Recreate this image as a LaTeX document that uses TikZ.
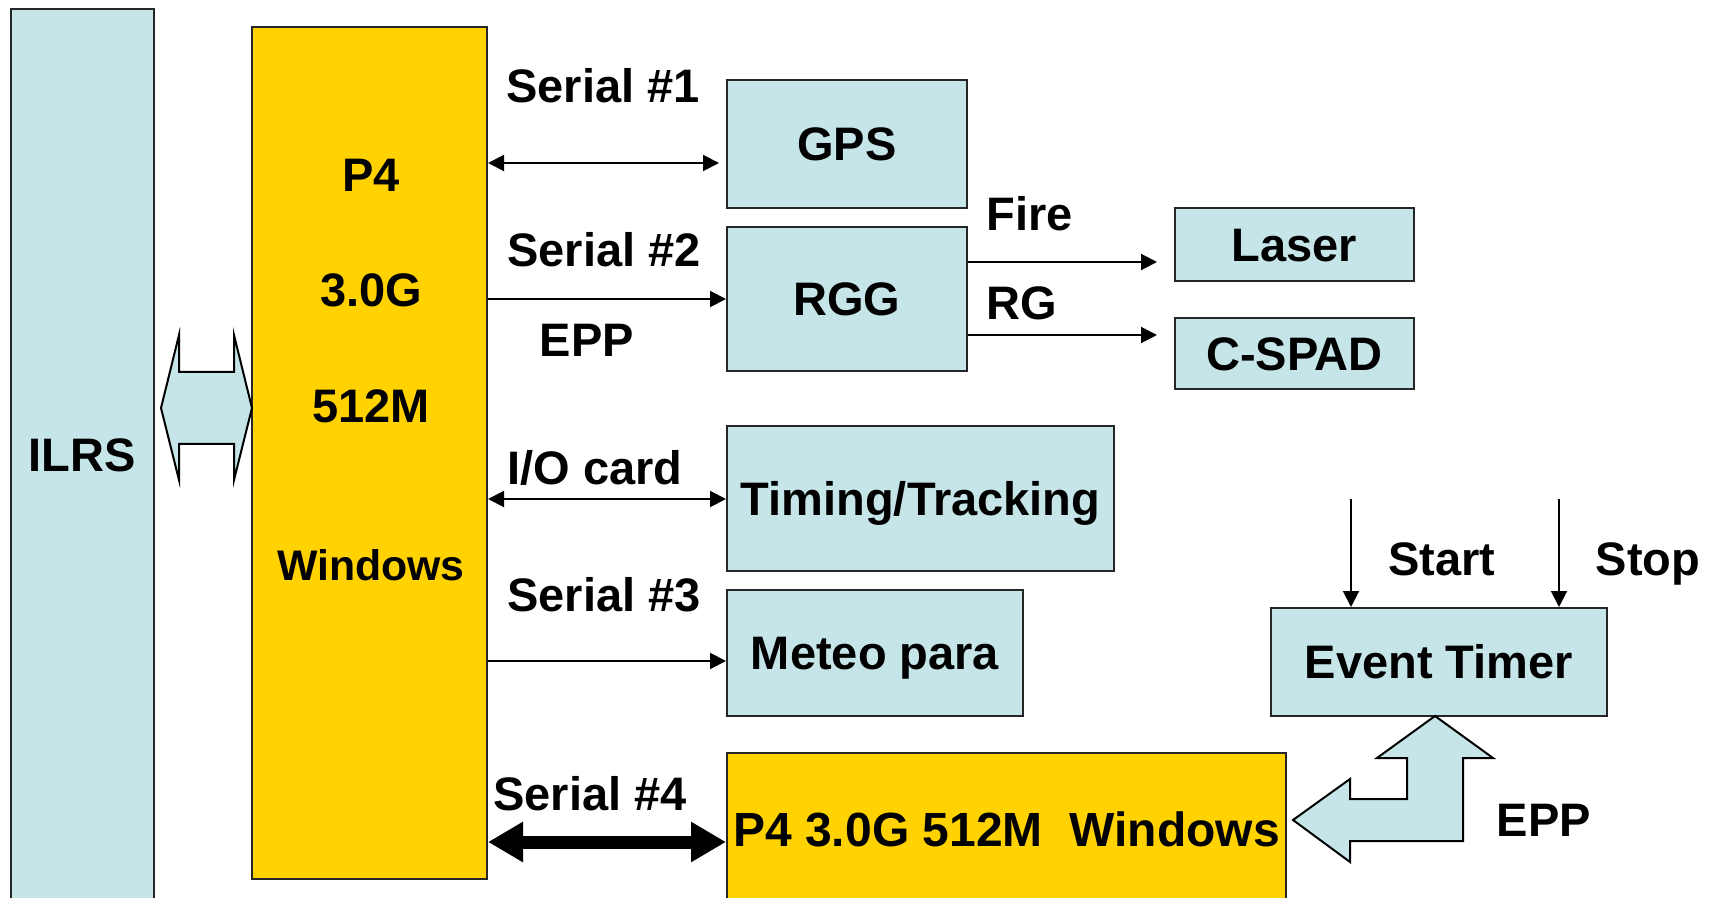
\documentclass[tikz,border=0pt]{standalone}
\usepackage{fontspec}
\setmainfont{Liberation Sans}
\usetikzlibrary{arrows.meta}
\definecolor{lblue}{HTML}{C5E5E8}
\definecolor{yel}{HTML}{FFD200}
\tikzset{
  txt/.style={font=\bfseries\fontsize{23.5}{28}\selectfont, text height=16.8pt, text depth=0pt, inner sep=0pt},
  bbox/.style={draw=black!85, line width=1pt, fill=lblue, txt},
  ybox/.style={draw=black!85, line width=1pt, fill=yel, txt},
  arr/.style={line width=1pt, -{Triangle[length=8pt,width=8pt]}},
  darr/.style={line width=1pt, {Triangle[length=8pt,width=8pt]}-{Triangle[length=8pt,width=8pt]}},
  thickarr/.style={line width=6.5pt, {Triangle[length=17.5pt,width=19pt]}-{Triangle[length=17.5pt,width=19pt]}},
  blockarr/.style={draw=black, line width=1pt, fill=lblue, line join=miter}
}
\begin{document}
\begin{tikzpicture}[x=0.5pt, y=-0.5pt]
\useasboundingbox (0,0) rectangle (1719,898);
% main boxes
\node[bbox, minimum width=71.5pt, minimum height=450.5pt] (ILRS) at (82.5,459.5) {};
\node[txt] (ilrst) at (82,455) {ILRS};
\node[ybox, minimum width=117.5pt, minimum height=426pt] (P4) at (369.5,453) {};
\node[txt] (p4a) at (371,175) {P4};
\node[txt] (p4b) at (371,290) {3.0G};
\node[txt] (p4c) at (371,406) {512M};
\node[txt, font=\bfseries\fontsize{21.4}{26}\selectfont, text height=15.3pt] (p4d) at (371,565) {Windows};
\node[bbox, minimum width=120pt, minimum height=64pt] (GPS) at (847,144) {GPS};
\node[bbox, minimum width=120pt, minimum height=72pt] (RGG) at (847,299) {RGG};
\node[bbox, minimum width=119.5pt, minimum height=36.5pt] (Laser) at (1294.5,244.5) {Laser};
\node[bbox, minimum width=119.5pt, minimum height=35.5pt] (CSPAD) at (1294.5,353.5) {C-SPAD};
\node[bbox, minimum width=193.5pt, minimum height=72.5pt] (TT) at (920.5,498.5) {Timing/Tracking};
\node[bbox, minimum width=148pt, minimum height=63pt] (Meteo) at (875,653) {Meteo para};
\node[bbox, minimum width=168pt, minimum height=54pt] (ET) at (1439,662) {Event Timer};
\node[ybox, minimum width=279.5pt, minimum height=76pt, font=\bfseries\fontsize{24}{28}\selectfont, text height=17.2pt] (P4b) at (1006.5,829) {P4 3.0G 512M\ \ Windows};
% labels
\node[txt] (l1) at (603,86) {Serial \#1};
\node[txt] (l2) at (604,250) {Serial \#2};
\node[txt] (l3) at (587,340) {EPP};
\node[txt] (l4) at (595,468) {I/O card};
\node[txt] (l5) at (604,595) {Serial \#3};
\node[txt] (l6) at (590,794) {Serial \#4};
\node[txt] (l7) at (1030,214) {Fire};
\node[txt] (l8) at (1022,303) {RG};
\node[txt] (l9) at (1442,559) {Start};
\node[txt] (l10) at (1648,559) {Stop};
\node[txt] (l11) at (1544,820) {EPP};
% connectors
\draw[darr] (P4.east |- 0,163) -- ([xshift=-3.5pt]GPS.west |- 0,163);
\draw[arr] (P4.east |- 0,299) -- (RGG.west |- 0,299);
\draw[darr] (P4.east |- 0,499) -- (TT.west |- 0,499);
\draw[arr] (P4.east |- 0,661) -- (Meteo.west |- 0,661);
\draw[thickarr] (P4.east |- 0,842) -- (P4b.west |- 0,842);
\draw[arr] (RGG.east |- 0,262) -- ([xshift=-8.5pt]Laser.west |- 0,262);
\draw[arr] (RGG.east |- 0,335) -- ([xshift=-8.5pt]CSPAD.west |- 0,335);
\coordinate (startin) at (1351,499);
\coordinate (stopin) at (1559,499);
\draw[arr] (startin) -- (startin |- ET.north);
\draw[arr] (stopin) -- (stopin |- ET.north);
% block arrows
\draw[blockarr] (161,408) -- (179,335) -- (179,372) -- (234,372) -- (234,335) -- (252,408)
  -- (234,480) -- (234,444) -- (179,444) -- (179,480) -- cycle;
\draw[blockarr] (1435,716) -- (1493,758) -- (1463,758) -- (1463,841) -- (1350,841) -- (1350,862)
  -- (1293,820) -- (1350,779) -- (1350,799) -- (1407,799) -- (1407,758) -- (1377,758) -- cycle;
\end{tikzpicture}
\end{document}
